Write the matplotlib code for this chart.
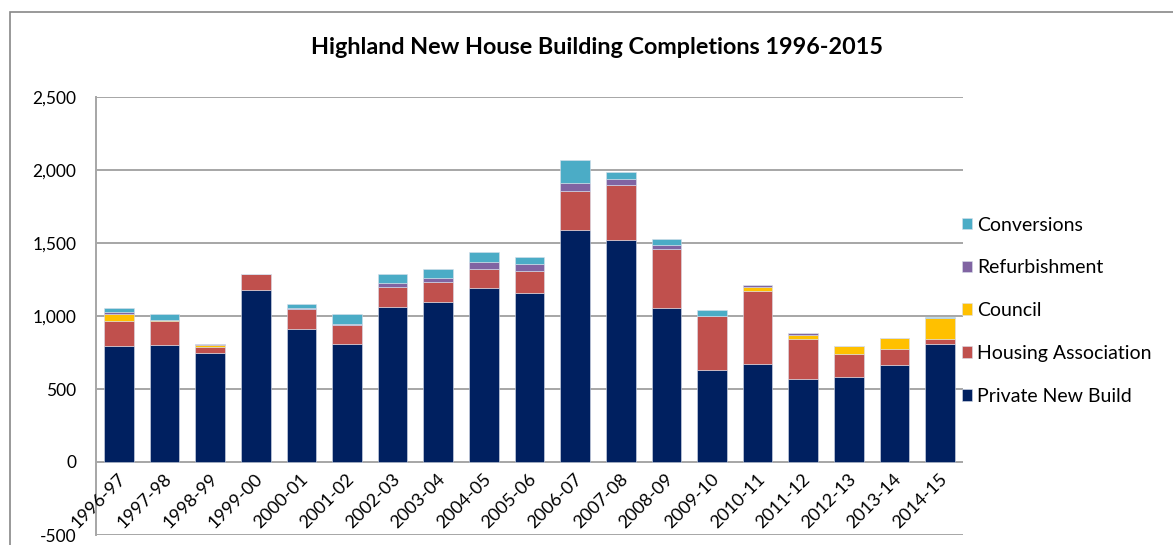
import matplotlib.pyplot as plt
import numpy as np
from matplotlib.patches import Rectangle

years = ['1996-97', '1997-98', '1998-99', '1999-00', '2000-01', '2001-02', '2002-03',
         '2003-04', '2004-05', '2005-06', '2006-07', '2007-08', '2008-09', '2009-10',
         '2010-11', '2011-12', '2012-13', '2013-14', '2014-15']

private_new_build = [795, 800, 748, 1180, 910, 810, 1063, 1095, 1195, 1157, 1590, 1522,
                     1057, 628, 671, 566, 580, 667, 806]
housing_association = [170, 167, 42, 110, 135, 126, 137, 139, 130, 148, 265, 372,
                       402, 372, 502, 279, 162, 107, 39]
council = [48, 7, 12, 0, 0, 0, 0, 0, 0, 0, 0, 0, 0, 0, 25, 27, 53, 77, 139]
refurbishment = [16, 0, 3, 0, 9, 9, 23, 23, 46, 48, 59, 41, 30, 0, 13, 14, 0, 0, 0]
conversions = [27, 43, 0, 0, 30, 71, 66, 68, 66, 50, 153, 48, 39, 41, 0, 0, 0, 0, 11]

series = [
    ('Private New Build', private_new_build, '#002060'),
    ('Housing Association', housing_association, '#C0504D'),
    ('Council', council, '#FFC000'),
    ('Refurbishment', refurbishment, '#8064A2'),
    ('Conversions', conversions, '#4BACC6'),
]

plt.rcParams['font.family'] = ['Lato', 'DejaVu Sans']

fig = plt.figure(figsize=(11.73, 5.45), dpi=100)
fig.patches.append(Rectangle((10 / 1173, -0.1), 1.2, 1.1 - 12 / 545, transform=fig.transFigure,
                             fill=False, edgecolor='#888888', linewidth=1.2))

ax = fig.add_axes([96 / 1173, 1 - 535 / 545, (963 - 96) / 1173, (535 - 97) / 545])

x = np.arange(len(years))
bottom = np.zeros(len(years))
handles = []
for name, vals, col in series:
    vals = np.array(vals, dtype=float)
    b = ax.bar(x, vals, width=0.65, bottom=bottom, color=col, label=name,
               edgecolor='#D8DEEA', linewidth=0.4)
    handles.append(b)
    bottom += vals

ax.set_xlim(-0.5, len(years) - 0.5)
ax.set_ylim(-500, 2500)
ax.set_yticks(np.arange(-500, 2501, 500))
ax.set_yticklabels([f'{v:,}' for v in range(-500, 2501, 500)], fontsize=12.5)
ax.yaxis.grid(True, color='#A6A6A6', linewidth=1.4)
ax.set_axisbelow(True)
for s in ['top', 'right', 'bottom']:
    ax.spines[s].set_visible(False)
ax.spines['left'].set_color('#A6A6A6')
ax.spines['left'].set_linewidth(1.4)
ax.tick_params(axis='y', length=0, pad=14)
ax.tick_params(axis='x', length=0)
ax.set_xticks(x)
ax.set_xticklabels([])

for xi, lab in zip(x, years):
    ax.text(xi + 0.1, -100, lab, rotation=45, rotation_mode='anchor', ha='right', va='center',
            fontsize=13)

fig.text(597 / 1173, 1 - 47 / 545, 'Highland New House Building Completions 1996-2015',
         ha='center', va='center', fontsize=16.8, fontweight='bold')

leg = fig.legend(handles[::-1], [s[0] for s in series][::-1], loc='upper left',
                 bbox_to_anchor=(944 / 1173, 1 - 199 / 545), frameon=False, fontsize=14,
                 handlelength=0.55, handleheight=0.55, handletextpad=0.26, labelspacing=1.33)

fig.savefig('out.png', dpi=100)
